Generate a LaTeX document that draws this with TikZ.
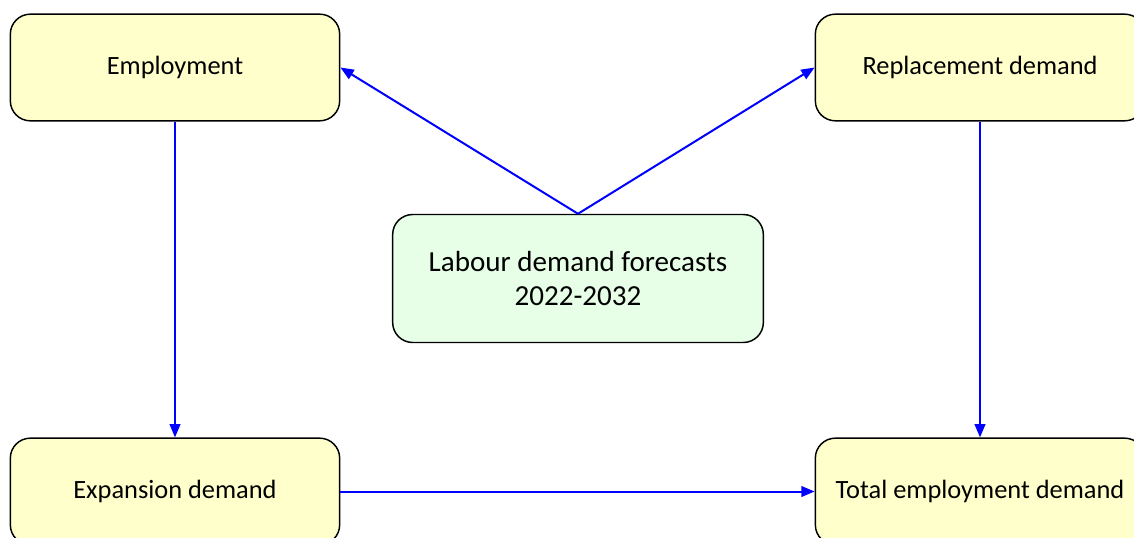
\documentclass[tikz,border=0pt]{standalone}
\usepackage{fontspec}
\setmainfont{Carlito}
\usepackage{tikz}
\usetikzlibrary{arrows.meta}
\usetikzlibrary{positioning}
\definecolor{boxyellow}{RGB}{255,255,204}
\definecolor{boxgreen}{RGB}{230,255,230}
\tikzstyle{etape}=[rectangle,draw,line width=1.1pt,rounded corners=15pt,
fill=boxyellow,minimum width=247pt,minimum height=80pt,
font=\fontsize{19.8}{24}\selectfont]
\tikzstyle{centre}=[rectangle,draw,line width=1.1pt,rounded corners=15pt,
fill=boxgreen,minimum width=278pt,minimum height=96pt,align=center,
font=\fontsize{21.8}{25.5}\selectfont]
\tikzstyle{suite}=[-{Triangle[length=10pt,width=8pt]},draw=blue,fill=blue,line width=1.5pt]
\begin{document}
\begin{tikzpicture}[x=0.75pt,y=-0.75pt]
\useasboundingbox (0,0) rectangle (1134,538);
\node[etape] (emp) at (175,67.5) {Employment};
\node[etape] (rep) at (980,67.5) {Replacement demand};
\node[centre] (lab) at (578,278.5) {Labour demand forecasts\\2022-2032};
\node[etape] (exp) at (175,491.5) {Expansion demand};
\node[etape] (tot) at (980,491.5) {Total employment demand};
%Drawing Edges
\draw[suite] (lab.north) -- (emp.east);
\draw[suite] (lab.north) -- (rep.west);
\draw[suite] (emp) -- (exp);
\draw[suite] (rep) -- (tot);
\draw[suite] (exp) -- (tot);
\end{tikzpicture}
\end{document}
